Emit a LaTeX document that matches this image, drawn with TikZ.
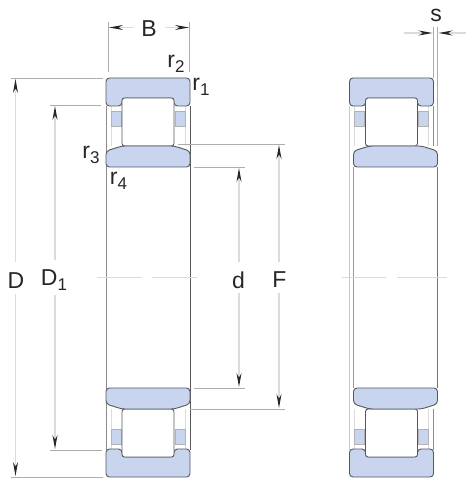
\documentclass[tikz,border=0pt]{standalone}
\usepackage{fontspec}
\setmainfont{Liberation Sans}
\usetikzlibrary{arrows.meta}
\definecolor{ringblue}{HTML}{C9D5EE}
\definecolor{ringline}{HTML}{55585F}
\tikzset{
  ring/.style={draw=ringline,fill=ringblue,line width=.9pt,rounded corners=3.5pt},
  roller/.style={draw=ringline,fill=white,line width=.9pt,rounded corners=2.5pt},
  cage/.style={draw=gray!60,fill=ringblue,line width=.7pt},
  faint/.style={draw=black!14,line width=.9pt},
  extline/.style={draw=black!32,line width=.6pt},
  dimline/.style={draw=black!14,line width=1.1pt,-{Stealth[length=14pt,width=5pt,black!85]}},
  lbl/.style={font=\fontsize{23}{23}\selectfont,text=black!85,inner sep=0pt}
}
% one half of a section, seen from the centre line
\newcommand{\bearhalf}[3]{
  \begin{scope}[shift={(0,277.5)},yscale=#3]
    \draw[faint] (#1-37,-171.5) -- (#1-37,-131.5);
    \draw[faint] (#1+37,-171.5) -- (#1+37,-131.5);
    \draw[cage] (#1-37,-166.5) rectangle (#1-27,-151.5);
    \draw[cage] (#1+27,-166.5) rectangle (#1+37,-151.5);
    \draw[ring] (#1-42,-171.5) -- (#1-42,-199.5) -- (#1+42,-199.5) -- (#1+42,-171.5)
      -- (#1+26,-171.5) -- (#1+26,-179.5) -- (#1-26,-179.5) -- (#1-26,-171.5) -- cycle;
    \draw[roller] (#1-26,-179.5) rectangle (#1+26,-131.5);
    \draw[ring] (#2-42,-110.5) -- (#2-42,-126.5) -- (#2-26,-131.5) -- (#2+26,-131.5)
      -- (#2+42,-126.5) -- (#2+42,-110.5) -- cycle;
  \end{scope}
}
\newcommand{\subnum}[1]{\raisebox{-.45ex}{\fontsize{17}{17}\selectfont #1}}
\begin{document}
\begin{tikzpicture}[x=1pt,y=-1pt]
  \useasboundingbox (0,0) rectangle (467,478);
  % body outlines
  \draw[black!45,line width=.9pt] (106.5,106) -- (106.5,450);
  \draw[black!65,line width=.9pt] (190,106) -- (190,450);
  \draw[black!22,line width=.9pt] (349.5,106) -- (349.5,450);
  \draw[black!40,line width=.9pt] (353,167) -- (353,388);
  \draw[black!45,line width=.9pt] (433,106) -- (433,146);
  \draw[black!45,line width=.9pt] (433,409) -- (433,450);
  \draw[black!55,line width=.9pt] (437.5,167) -- (437.5,388);
  % sections
  \bearhalf{148}{148}{1}
  \bearhalf{148}{148}{-1}
  \bearhalf{391.5}{395.5}{1}
  \bearhalf{391.5}{395.5}{-1}
  % centre lines
  \draw[faint] (97,277.5) -- (142,277.5) (152,277.5) -- (197,277.5);
  \draw[faint] (342,277.5) -- (386,277.5) (397,277.5) -- (447,277.5);
  % extension lines
  \draw[extline] (108.5,22) -- (108.5,72);
  \draw[extline] (189.5,22) -- (189.5,72);
  \draw[extline] (433.5,27) -- (433.5,78);
  \draw[extline] (437.5,27) -- (437.5,146);
  \draw[extline] (11,78) -- (103,78);
  \draw[extline] (11,477) -- (103,477);
  \draw[extline] (50,105.5) -- (101,105.5);
  \draw[extline] (50,450) -- (102,450);
  \draw[extline] (194,167) -- (245,167);
  \draw[extline] (194,388) -- (245,388);
  \draw[extline] (178,144) -- (285,144);
  \draw[extline] (190,409) -- (285,409);
  % labels
  \node[lbl] (B) at (149,29) {B};
  \node[lbl] (s) at (436,15) {s};
  \node[lbl] (D) at (16,281) {D};
  \node[lbl] (D1) at (54,280) {D\subnum{1}};
  \node[lbl] (d) at (238.5,280) {d};
  \node[lbl] (F) at (279.5,280) {F};
  \node[lbl] (r1) at (201,87) {r\subnum{1}};
  \node[lbl] (r2) at (176,64) {r\subnum{2}};
  \node[lbl] (r3) at (91,155) {r\subnum{3}};
  \node[lbl] (r4) at (118.5,181) {r\subnum{4}};
  % dimension lines
  \coordinate (Dtop) at (15.5,79);
  \coordinate (Dbot) at (15.5,476);
  \coordinate (Dgapa) at (15.5,262);
  \coordinate (Dgapb) at (15.5,294);
  \coordinate (Dsa) at (55,106);
  \coordinate (Dsb) at (55,449);
  \coordinate (Dsgapa) at (55,260);
  \coordinate (Dsgapb) at (55,295);
  \coordinate (dtop) at (239,168);
  \coordinate (dbot) at (239,387);
  \coordinate (dgapa) at (239,262);
  \coordinate (dgapb) at (239,293);
  \coordinate (Ftop) at (279,145);
  \coordinate (Fbot) at (279,408);
  \coordinate (Fgapa) at (279,262);
  \coordinate (Fgapb) at (279,293);
  \coordinate (Bl) at (109,27.5);
  \coordinate (Blb) at (134,27.5);
  \coordinate (Br) at (189,27.5);
  \coordinate (Brb) at (165,27.5);
  \coordinate (sl) at (432.5,33);
  \coordinate (slb) at (404,33);
  \coordinate (sr) at (438.5,33);
  \coordinate (srb) at (466,33);
  \draw[dimline] (Dgapa) -- (Dtop);
  \draw[dimline] (Dgapb) -- (Dbot);
  \draw[dimline] (Dsgapa) -- (Dsa);
  \draw[dimline] (Dsgapb) -- (Dsb);
  \draw[dimline] (dgapa) -- (dtop);
  \draw[dimline] (dgapb) -- (dbot);
  \draw[dimline] (Fgapa) -- (Ftop);
  \draw[dimline] (Fgapb) -- (Fbot);
  \draw[dimline] (Blb) -- (Bl);
  \draw[dimline] (Brb) -- (Br);
  \draw[dimline] (slb) -- (sl);
  \draw[dimline] (srb) -- (sr);
\end{tikzpicture}
\end{document}
